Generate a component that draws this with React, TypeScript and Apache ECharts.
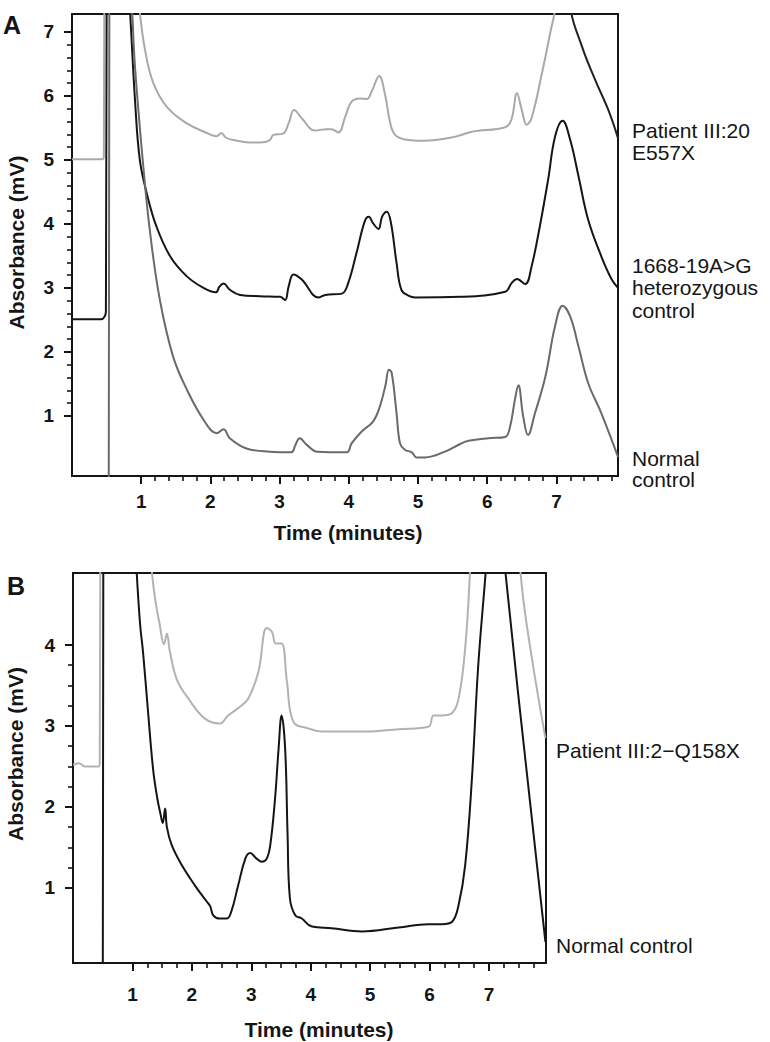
import React, { useEffect, useRef } from "react";
import * as echarts from "echarts";

// ---------- tick values ----------
const timeMajorTicks = [1, 2, 3, 4, 5, 6, 7];
const absMajorTicksA = [1, 2, 3, 4, 5, 6, 7];
const absMajorTicksB = [1, 2, 3, 4];
const steps = (a: number, b: number, s: number) => {
  const out: number[] = [];
  for (let v = a; v <= b + 1e-9; v += s) out.push(Math.round(v * 100) / 100);
  return out;
};
const timeMinorTicksA = steps(1, 7.8, 0.2);
const absMinorTicksA = steps(1, 7, 0.2);
const timeMinorTicksB = steps(1, 7.75, 0.25);
const absMinorTicksB = steps(1, 4, 0.25);

// ---------- Panel A traces [time (min), absorbance (mV)] ----------
const patientIII20A: number[][] = [
  [0, 5.01], [0.44, 5.01], [0.46, 5.06], [0.48, 12], [0.95, 7.6], [0.98, 7.3],
  [1.055, 6.72], [1.175, 6.2], [1.37, 5.83], [1.66, 5.57], [1.95, 5.42], [2.09, 5.37],
  [2.16, 5.42], [2.22, 5.35], [2.33, 5.31], [2.62, 5.27], [2.79, 5.28], [2.86, 5.31],
  [2.91, 5.39], [3.05, 5.41], [3.13, 5.57], [3.21, 5.78], [3.32, 5.65], [3.51, 5.46],
  [3.68, 5.48], [3.75, 5.48], [3.85, 5.43], [3.95, 5.68], [4.04, 5.91], [4.16, 5.96],
  [4.26, 5.95], [4.33, 6.07], [4.44, 6.31], [4.52, 6.04], [4.6, 5.57], [4.67, 5.39],
  [4.81, 5.32], [5.08, 5.3], [5.53, 5.36], [5.78, 5.44], [6.26, 5.51], [6.35, 5.63],
  [6.43, 6.04], [6.5, 5.78], [6.57, 5.55], [6.64, 5.65], [6.79, 6.35], [6.91, 6.98],
  [7.0, 7.5], [7.1, 9.5], [7.2, 7.4], [7.37, 6.77], [7.56, 6.25], [7.75, 5.78], [7.89, 5.34],
];
const patientTailStart = 7.1;

const heterozygousA: number[][] = [
  [0, 2.51], [0.42, 2.51], [0.47, 2.55], [0.49, 2.63], [0.51, 12], [0.8, 8.0], [0.84, 7.3],
  [0.91, 5.94], [0.98, 5.0], [1.08, 4.48], [1.22, 3.96], [1.42, 3.49], [1.66, 3.18],
  [1.9, 3.0], [2.08, 2.93], [2.13, 3.02], [2.19, 3.07], [2.28, 2.97], [2.43, 2.89],
  [2.72, 2.87], [3.01, 2.86], [3.08, 2.81], [3.13, 3.02], [3.2, 3.21], [3.32, 3.13],
  [3.56, 2.85], [3.66, 2.89], [3.9, 2.91], [3.99, 3.07], [4.11, 3.54], [4.23, 4.04],
  [4.29, 4.11], [4.35, 4.01], [4.43, 3.92], [4.48, 4.11], [4.55, 4.19], [4.61, 4.01],
  [4.69, 3.39], [4.76, 2.97], [4.86, 2.88], [4.96, 2.85], [5.61, 2.86], [6.26, 2.94],
  [6.35, 3.07], [6.43, 3.14], [6.55, 3.06], [6.64, 3.33], [6.76, 3.96], [6.88, 4.69],
  [6.98, 5.36], [7.09, 5.61], [7.2, 5.31], [7.32, 4.74], [7.46, 4.06], [7.65, 3.49],
  [7.8, 3.13], [7.89, 3.0],
];

const normalA: number[][] = [
  [0, -1], [0.53, -1], [0.545, 12], [0.83, 8.0], [0.87, 7.3], [0.91, 6.46], [1.03, 4.9],
  [1.13, 3.85], [1.27, 2.81], [1.46, 1.93], [1.66, 1.41], [1.9, 0.94], [2.09, 0.73],
  [2.19, 0.79], [2.28, 0.65], [2.52, 0.49], [2.86, 0.44], [3.17, 0.43], [3.23, 0.55],
  [3.29, 0.65], [3.39, 0.55], [3.54, 0.44], [3.97, 0.43], [4.04, 0.57], [4.19, 0.76],
  [4.35, 0.91], [4.45, 1.15], [4.53, 1.48], [4.58, 1.72], [4.62, 1.67], [4.69, 1.04],
  [4.74, 0.57], [4.81, 0.47], [4.91, 0.43], [4.98, 0.35], [5.1, 0.35], [5.39, 0.44],
  [5.61, 0.56], [5.73, 0.61], [6.02, 0.65], [6.26, 0.67], [6.33, 0.83], [6.4, 1.25],
  [6.45, 1.48], [6.52, 0.99], [6.59, 0.7], [6.69, 1.04], [6.84, 1.61], [6.98, 2.4],
  [7.09, 2.72], [7.2, 2.55], [7.32, 2.08], [7.46, 1.51], [7.65, 1.04], [7.89, 0.36],
];

// ---------- Panel B traces ----------
const patientIII2B: number[][] = [
  [0, 2.52], [0.1, 2.54], [0.2, 2.5], [0.43, 2.5], [0.45, 2.55], [0.47, 8], [1.25, 5.3],
  [1.38, 4.58], [1.46, 4.25], [1.53, 4.01], [1.58, 4.14], [1.63, 3.92], [1.75, 3.57],
  [1.94, 3.34], [2.22, 3.09], [2.47, 3.03], [2.61, 3.13], [2.78, 3.22], [2.95, 3.34],
  [3.12, 3.67], [3.26, 4.21], [3.35, 4.16], [3.41, 4.02], [3.51, 4.02], [3.6, 3.55],
  [3.71, 3.05], [3.96, 2.97], [4.19, 2.93], [4.92, 2.93], [5.48, 2.96], [5.98, 2.99],
  [6.07, 3.13], [6.21, 3.13], [6.38, 3.16], [6.49, 3.34], [6.6, 3.96], [6.68, 4.9],
  [6.8, 7], [7.1, 8], [7.3, 7], [7.55, 4.75], [7.72, 3.85], [7.95, 2.85],
];

const normalB: number[][] = [
  [0, -1], [0.5, -1], [0.515, 8], [0.95, 6], [1.13, 4.25], [1.18, 3.9], [1.26, 3.2],
  [1.35, 2.45], [1.42, 2.1], [1.47, 1.92], [1.51, 1.8], [1.55, 1.98], [1.58, 1.75],
  [1.66, 1.53], [1.83, 1.28], [2.05, 1.03], [2.25, 0.83], [2.31, 0.77], [2.36, 0.66],
  [2.47, 0.62], [2.59, 0.62], [2.67, 0.72], [2.78, 1.03], [2.9, 1.36], [2.98, 1.43],
  [3.09, 1.36], [3.18, 1.32], [3.26, 1.36], [3.32, 1.53], [3.4, 2.1], [3.46, 2.72],
  [3.51, 3.13], [3.57, 2.72], [3.61, 1.69], [3.65, 0.87], [3.74, 0.66], [3.85, 0.62],
  [4.02, 0.52], [4.35, 0.5], [4.86, 0.46], [5.48, 0.51], [5.98, 0.55], [6.21, 0.55],
  [6.38, 0.58], [6.49, 0.79], [6.6, 1.28], [6.71, 2.31], [6.82, 3.75], [6.95, 4.95],
  [7.1, 6.5], [7.27, 4.95], [7.95, 0.33],
];

const FONT = '"Liberation Sans", Arial, Helvetica, sans-serif';
const INK = "#151515";

function makeAxes(
  gridIndex: number,
  dim: "x" | "y",
  min: number,
  max: number,
  major: number[],
  minor: number[],
  labelMargin: number
) {
  const base: any = {
    type: "value",
    gridIndex,
    min,
    max,
    position: dim === "x" ? "bottom" : "left",
    splitLine: { show: false },
  };
  return [
    {
      ...base,
      axisLine: { show: true, lineStyle: { color: INK, width: 2 } },
      axisTick: { show: true, customValues: major, length: 8, lineStyle: { color: INK, width: 2 } },
      axisLabel: {
        show: true,
        customValues: major,
        margin: labelMargin,
        color: INK,
        fontSize: 19,
        fontWeight: "bold",
        fontFamily: FONT,
      },
    },
    {
      ...base,
      axisLine: { show: false },
      axisTick: { show: true, customValues: minor, length: 5, lineStyle: { color: INK, width: 1.6 } },
      axisLabel: { show: false },
    },
  ];
}

function text(t: string, x: number, y: number, extra: any = {}, styleExtra: any = {}) {
  return {
    type: "text",
    x,
    y,
    ...extra,
    style: {
      text: t,
      fill: INK,
      fontFamily: FONT,
      fontSize: 21,
      fontWeight: "normal",
      align: "left",
      textAlign: "left",
      verticalAlign: "middle",
      textVerticalAlign: "middle",
      ...styleExtra,
    },
  };
}

export default function App() {
  const ref = useRef<HTMLDivElement>(null);
  useEffect(() => {
    if (!ref.current) return;
    const chart = echarts.init(ref.current, undefined, { renderer: "svg" });

    const patientMain = patientIII20A.filter((p) => p[0] <= patientTailStart);
    const patientTail = patientIII20A.filter((p) => p[0] >= patientTailStart);

    const line = (name: string, data: number[][], color: string, xi: number, yi: number) => ({
      type: "line",
      name,
      data,
      xAxisIndex: xi,
      yAxisIndex: yi,
      showSymbol: false,
      symbol: "none",
      smooth: 0.4,
      clip: true,
      lineStyle: { color, width: 2 },
      z: 3,
    });

    const option: any = {
      animation: false,
      backgroundColor: "#ffffff",
      grid: [
        { left: 72, top: 14, width: 546, height: 462, show: true, borderColor: INK, borderWidth: 2, backgroundColor: "transparent" },
        { left: 73, top: 573, width: 473, height: 390, show: true, borderColor: INK, borderWidth: 2, backgroundColor: "transparent" },
      ],
      xAxis: [
        ...makeAxes(0, "x", 0, 7.89, timeMajorTicks, timeMinorTicksA, 16),
        ...makeAxes(1, "x", 0, 7.96, timeMajorTicks, timeMinorTicksB, 22),
      ],
      yAxis: [
        ...makeAxes(0, "y", 0.06, 7.28, absMajorTicksA, absMinorTicksA, 18),
        ...makeAxes(1, "y", 0.07, 4.89, absMajorTicksB, absMinorTicksB, 18),
      ],
      series: [
        line("Patient III:20 E557X", patientMain, "#a9a9a9", 0, 0),
        line("Patient III:20 E557X (tail)", patientTail, "#222222", 0, 0),
        line("1668-19A>G heterozygous control", heterozygousA, "#151515", 0, 0),
        line("Normal control A", normalA, "#6a6a6a", 0, 0),
        line("Patient III:2-Q158X", patientIII2B, "#b2b2b2", 2, 2),
        line("Normal control B", normalB, "#151515", 2, 2),
      ],
      graphic: [
        text("A", 3, 25, {}, { fontSize: 25, fontWeight: "bold" }),
        text("B", 7, 586, {}, { fontSize: 25, fontWeight: "bold" }),
        text("Absorbance (mV)", 16.5, 242.5, { rotation: Math.PI / 2 }, { align: "center", textAlign: "center", fontWeight: "bold", fontSize: 21 }),
        text("Absorbance (mV)", 15, 754, { rotation: Math.PI / 2 }, { align: "center", textAlign: "center", fontWeight: "bold", fontSize: 21 }),
        text("Time (minutes)", 348, 532, {}, { align: "center", textAlign: "center", fontWeight: "bold", fontSize: 21 }),
        text("Time (minutes)", 319, 1029, {}, { align: "center", textAlign: "center", fontWeight: "bold", fontSize: 21 }),
        text("Patient III:20\nE557X", 632, 141, {}, { lineHeight: 22 }),
        text("1668-19A>G\nheterozygous\ncontrol", 632, 287.5, {}, { lineHeight: 22.5 }),
        text("Normal\ncontrol", 632, 468.5, {}, { lineHeight: 21 }),
        text("Patient III:2\u2212Q158X", 556, 750),
        text("Normal control", 556, 945),
      ],
    };
    chart.setOption(option);
    return () => chart.dispose();
  }, []);

  return (
    <div
      ref={ref}
      style={{ position: "absolute", left: 0, top: 0, width: 770, height: 1042, background: "#fff" }}
    />
  );
}
